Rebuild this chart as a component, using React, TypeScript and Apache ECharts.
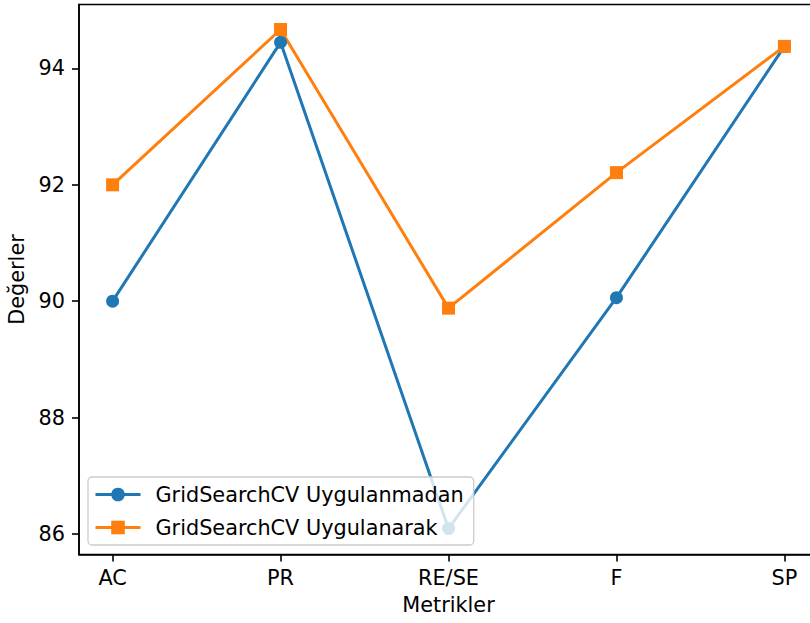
import React, { useEffect, useRef } from "react";
import * as echarts from "echarts";

const categories = ["AC", "PR", "RE/SE", "F", "SP"];
const seriesNames = ["GridSearchCV Uygulanmadan", "GridSearchCV Uygulanarak"];
const withoutValues = [90.0, 94.45, 86.09, 90.06, 94.38];
const withValues = [92.0, 94.67, 89.88, 92.21, 94.38];
const yTicks = [86, 88, 90, 92, 94];

const FONT = "DejaVu Sans";
const FS = 20.8;

export default function App() {
  const ref = useRef<HTMLDivElement>(null);
  useEffect(() => {
    const chart = echarts.init(ref.current!, null, { renderer: "svg" });
    const toPairs = (arr: number[]) => arr.map((v, i) => [i, v]);
    chart.setOption({
      animation: false,
      backgroundColor: "#ffffff",
      textStyle: { fontFamily: FONT },
      grid: {
        left: 79,
        top: 4.5,
        width: 739,
        height: 550,
        containLabel: false,
        outerBoundsMode: "none",
        show: true,
        borderColor: "#000",
        borderWidth: 1.6,
        backgroundColor: "transparent",
      },
      legend: {
        orient: "vertical",
        left: 88,
        top: 477,
        padding: [6, 10, 6, 6],
        itemGap: 10,
        itemWidth: 45,
        itemHeight: 17,
        backgroundColor: "rgba(255,255,255,0.8)",
        borderColor: "#cccccc",
        borderWidth: 1.3,
        borderRadius: 4,
        lineStyle: { width: 3 },
        textStyle: {
          fontFamily: FONT,
          fontSize: FS,
          color: "#000",
          lineHeight: 23,
          padding: [0, 0, 0, 10],
        },
        data: seriesNames,
      },
      xAxis: {
        type: "value",
        min: -0.2,
        max: 4.2,
        name: "Metrikler",
        nameLocation: "middle",
        nameGap: 40,
        nameTextStyle: { fontFamily: FONT, fontSize: FS, color: "#000" },
        axisLine: { onZero: false, lineStyle: { color: "#000", width: 1.6 } },
        axisTick: {
          show: true,
          length: 7,
          lineStyle: { color: "#000", width: 1.6 },
          customValues: categories.map((_, i) => i),
        },
        axisLabel: {
          fontFamily: FONT,
          fontSize: FS,
          color: "#000",
          margin: 13,
          customValues: categories.map((_, i) => i),
          formatter: (v: number) => categories[Math.round(v)] ?? "",
        },
        splitLine: { show: false },
      },
      yAxis: {
        type: "value",
        min: 85.645,
        max: 95.1,
        name: "Değerler",
        nameLocation: "middle",
        nameGap: 52,
        nameTextStyle: { fontFamily: FONT, fontSize: FS, color: "#000" },
        axisLine: { show: true, onZero: false, lineStyle: { color: "#000", width: 1.6 } },
        axisTick: {
          show: true,
          length: 7,
          lineStyle: { color: "#000", width: 1.6 },
          customValues: yTicks,
        },
        axisLabel: {
          fontFamily: FONT,
          fontSize: FS,
          color: "#000",
          margin: 14,
          customValues: yTicks,
          formatter: (v: number) => String(Math.round(v)),
        },
        splitLine: { show: false },
      },
      series: [
        {
          name: seriesNames[0],
          type: "line",
          data: toPairs(withoutValues),
          symbol: "circle",
          symbolSize: 13,
          lineStyle: { color: "#1f77b4", width: 3 },
          itemStyle: { color: "#1f77b4" },
          emphasis: { disabled: true },
        },
        {
          name: seriesNames[1],
          type: "line",
          data: toPairs(withValues),
          symbol: "rect",
          symbolSize: 13,
          lineStyle: { color: "#ff7f0e", width: 3 },
          itemStyle: { color: "#ff7f0e" },
          emphasis: { disabled: true },
        },
      ],
    });
    return () => chart.dispose();
  }, []);
  return (
    <div
      ref={ref}
      style={{ position: "fixed", left: 0, top: 0, width: 810, height: 623 }}
    />
  );
}
